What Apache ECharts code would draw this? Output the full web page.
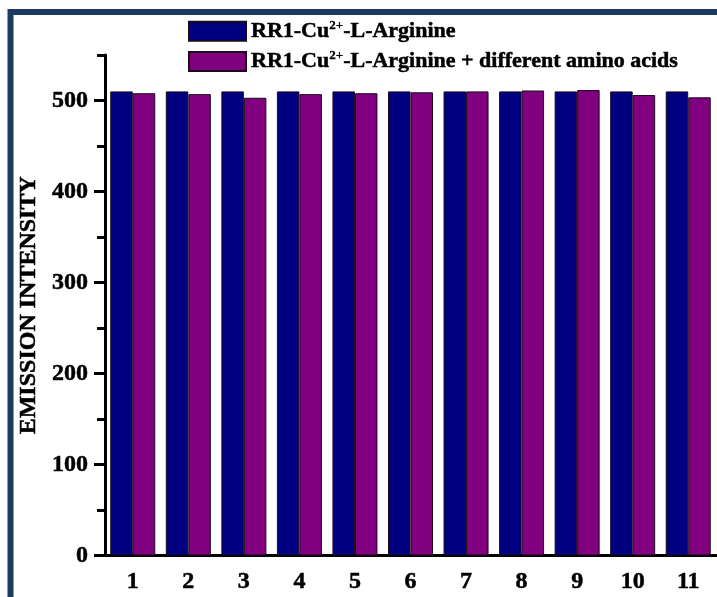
<!DOCTYPE html>
<html>
<head>
<meta charset="utf-8">
<script src="https://cdn.jsdelivr.net/npm/echarts@6/dist/echarts.min.js"></script>
<style>
  html, body { margin: 0; padding: 0; background: #ffffff; }
  #chart { width: 717px; height: 597px; }
</style>
</head>
<body>
<div id="chart"></div>
<script>
// Sample numbers shown along the x axis
const categories = ['1', '2', '3', '4', '5', '6', '7', '8', '9', '10', '11'];

// Emission intensity of the RR1-Cu2+-L-Arginine complex alone
const complexOnly = [510, 510, 510, 510, 510, 510, 510, 510, 510, 510, 510];

// Emission intensity after adding the different amino acids
const withAminoAcids = [508, 507, 503, 507, 508, 509, 510, 511, 511.5, 506, 503.5];

// Labelled (major) and unlabelled (minor) y ticks
const yMajorTicks = [0, 100, 200, 300, 400, 500];
const yMinorTicks = [50, 150, 250, 350, 450, 550];

const serif = '"Liberation Serif", "Times New Roman", serif';

// Heavy serif text used for all labels
const heavy = {
  fontFamily: serif, fontWeight: 'bold', color: '#000',
  textBorderColor: '#000', textBorderWidth: 0.5
};

const chart = echarts.init(document.getElementById('chart'), null, { renderer: 'canvas' });

const legendRich = {
  n: Object.assign({}, heavy, { fontSize: 22, lineHeight: 24 }),
  sup: Object.assign({}, heavy, { fontSize: 13, lineHeight: 12, verticalAlign: 'top', textBorderWidth: 0.3 })
};

chart.setOption({
  backgroundColor: '#ffffff',
  animation: false,
  graphic: [{
    type: 'rect',
    silent: true,
    z: 100,
    shape: { x: 10.5, y: 12, width: 800, height: 700 },
    style: { fill: null, stroke: '#1d3a5f', lineWidth: 6 }
  }],
  legend: {
    orient: 'vertical',
    left: 188,
    top: 19,
    padding: 0,
    itemWidth: 57,
    itemHeight: 19,
    itemGap: 7,
    icon: 'rect',
    data: ['a', 'b'],
    formatter: function (name) {
      return name === 'a'
        ? '{n|RR1-Cu}{sup|2+}{n|-L-Arginine}'
        : '{n|RR1-Cu}{sup|2+}{n|-L-Arginine + different amino acids}';
    },
    textStyle: { rich: legendRich }
  },
  grid: { left: 105, right: 1, top: 55, bottom: 41.5, containLabel: false },
  xAxis: [{
    type: 'category',
    data: categories,
    axisLine: { lineStyle: { color: '#000', width: 3 } },
    axisTick: { alignWithLabel: true, length: 9, lineStyle: { color: '#000', width: 3 } },
    axisLabel: Object.assign({ margin: 14, fontSize: 24 }, heavy),
    splitLine: { show: false }
  }, {
    type: 'category',
    data: categories,
    position: 'bottom',
    axisLine: { show: false },
    axisTick: { length: 5, lineStyle: { color: '#000', width: 3 } },
    axisLabel: { show: false },
    splitLine: { show: false }
  }],
  yAxis: [{
    type: 'value',
    min: 0,
    max: 550,
    interval: 50,
    name: 'EMISSION INTENSITY',
    nameLocation: 'middle',
    nameRotate: 90,
    nameGap: 62,
    nameTextStyle: Object.assign({ fontSize: 24 }, heavy),
    axisLine: { show: true, lineStyle: { color: '#000', width: 3 } },
    axisTick: { show: true, customValues: yMajorTicks, length: 11, lineStyle: { color: '#000', width: 3 } },
    axisLabel: Object.assign({ customValues: yMajorTicks, margin: 17, fontSize: 24 }, heavy),
    splitLine: { show: false }
  }, {
    type: 'value',
    min: 0,
    max: 550,
    interval: 50,
    position: 'left',
    axisLine: { show: false },
    axisTick: { show: true, customValues: yMinorTicks, length: 8, lineStyle: { color: '#000', width: 3 } },
    axisLabel: { show: false },
    splitLine: { show: false }
  }],
  series: [{
    name: 'a',
    type: 'bar',
    data: complexOnly,
    barGap: '0%',
    barCategoryGap: '19%',
    itemStyle: { color: '#000080', borderColor: '#1a0a1a', borderWidth: 1 }
  }, {
    name: 'b',
    type: 'bar',
    data: withAminoAcids,
    barGap: '0%',
    barCategoryGap: '19%',
    itemStyle: { color: '#800080', borderColor: '#1a0a1a', borderWidth: 1 }
  }]
});
</script>
</body>
</html>
